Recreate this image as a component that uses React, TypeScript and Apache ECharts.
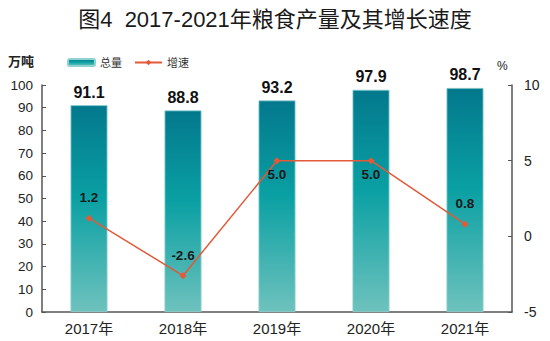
import React, { useEffect, useRef } from "react";
import * as echarts from "echarts";

const title = "图4  2017-2021年粮食产量及其增长速度";
const categories = ["2017年", "2018年", "2019年", "2020年", "2021年"];
const totals = [91.1, 88.8, 93.2, 97.9, 98.7];
const growth = [1.2, -2.6, 5.0, 5.0, 0.8];
const growthLabelPos = ["top", "top", "bottom", "bottom", "top"];

export default function App() {
  const ref = useRef<HTMLDivElement>(null);
  useEffect(() => {
    const chart = echarts.init(ref.current!, null, { renderer: "svg" });
    const font = "Arial, 'Liberation Sans', 'Noto Sans CJK SC', sans-serif";
    chart.setOption({
      animation: false,
      textStyle: { fontFamily: font },
      title: {
        text: title,
        left: "center",
        top: 3,
        textStyle: { fontSize: 22, fontWeight: "normal", color: "#1a1a1a", fontFamily: font },
      },
      legend: {
        left: 62,
        top: 52,
        itemWidth: 27,
        itemHeight: 7,
        itemGap: 12,
        textStyle: { fontSize: 11, color: "#333" },
        data: ["总量", "增速"],
      },
      graphic: [
        { type: "text", left: 8, top: 55, style: { text: "万吨", fontSize: 13, fontWeight: "bold", fill: "#222", fontFamily: font } },
        { type: "text", left: 497, top: 60, style: { text: "%", fontSize: 12, fill: "#222", fontFamily: font } },
      ],
      grid: { left: 42, right: 38, top: 85, bottom: 29 },
      xAxis: {
        type: "category",
        data: categories,
        axisLine: { lineStyle: { color: "#555", width: 1.5 } },
        axisTick: { inside: true, length: 5, lineStyle: { color: "#555" } },
        axisLabel: { fontSize: 15, color: "#222", margin: 9 },
      },
      yAxis: [
        {
          type: "value",
          min: 0,
          max: 100,
          interval: 10,
          splitLine: { show: false },
          axisLine: { show: true, lineStyle: { color: "#555", width: 1.5 } },
          axisTick: { show: true, inside: true, length: 4, lineStyle: { color: "#555" } },
          axisLabel: { fontSize: 13.5, color: "#222", margin: 9 },
        },
        {
          type: "value",
          min: -5,
          max: 10,
          interval: 5,
          splitLine: { show: false },
          axisLine: { show: true, lineStyle: { color: "#555", width: 1.5 } },
          axisTick: { show: true, inside: true, length: 4, lineStyle: { color: "#555" } },
          axisLabel: { fontSize: 14, color: "#222", margin: 12 },
        },
      ],
      series: [
        {
          name: "总量",
          type: "bar",
          data: totals,
          barWidth: 37,
          itemStyle: {
            color: new echarts.graphic.LinearGradient(0, 0, 0, 1, [
              { offset: 0, color: "#03788d" },
              { offset: 0.45, color: "#0aa0a3" },
              { offset: 1, color: "#6ec2bd" },
            ]),
            borderColor: "#8fd3d0",
            borderWidth: 0.8,
          },
          label: {
            show: true,
            position: "top",
            distance: 5,
            fontSize: 16,
            fontWeight: "bold",
            color: "#111",
          },
        },
        {
          name: "增速",
          type: "line",
          yAxisIndex: 1,
          data: growth.map((v, i) => ({
            value: v,
            label: {
              position: growthLabelPos[i] as any,
              distance: growthLabelPos[i] === "top" ? 10 : 4,
            },
          })),
          symbol: "diamond",
          symbolSize: 7,
          lineStyle: { color: "#e25a38", width: 1.5 },
          itemStyle: { color: "#e25a38" },
          label: {
            show: true,
            fontSize: 13.5,
            fontWeight: "bold",
            color: "#1a1a1a",
            formatter: (p: any) => Number(p.value).toFixed(1),
          },
        },
      ],
    });
    return () => chart.dispose();
  }, []);
  return <div ref={ref} style={{ width: 550, height: 341, position: "absolute", left: 0, top: 0 }} />;
}
